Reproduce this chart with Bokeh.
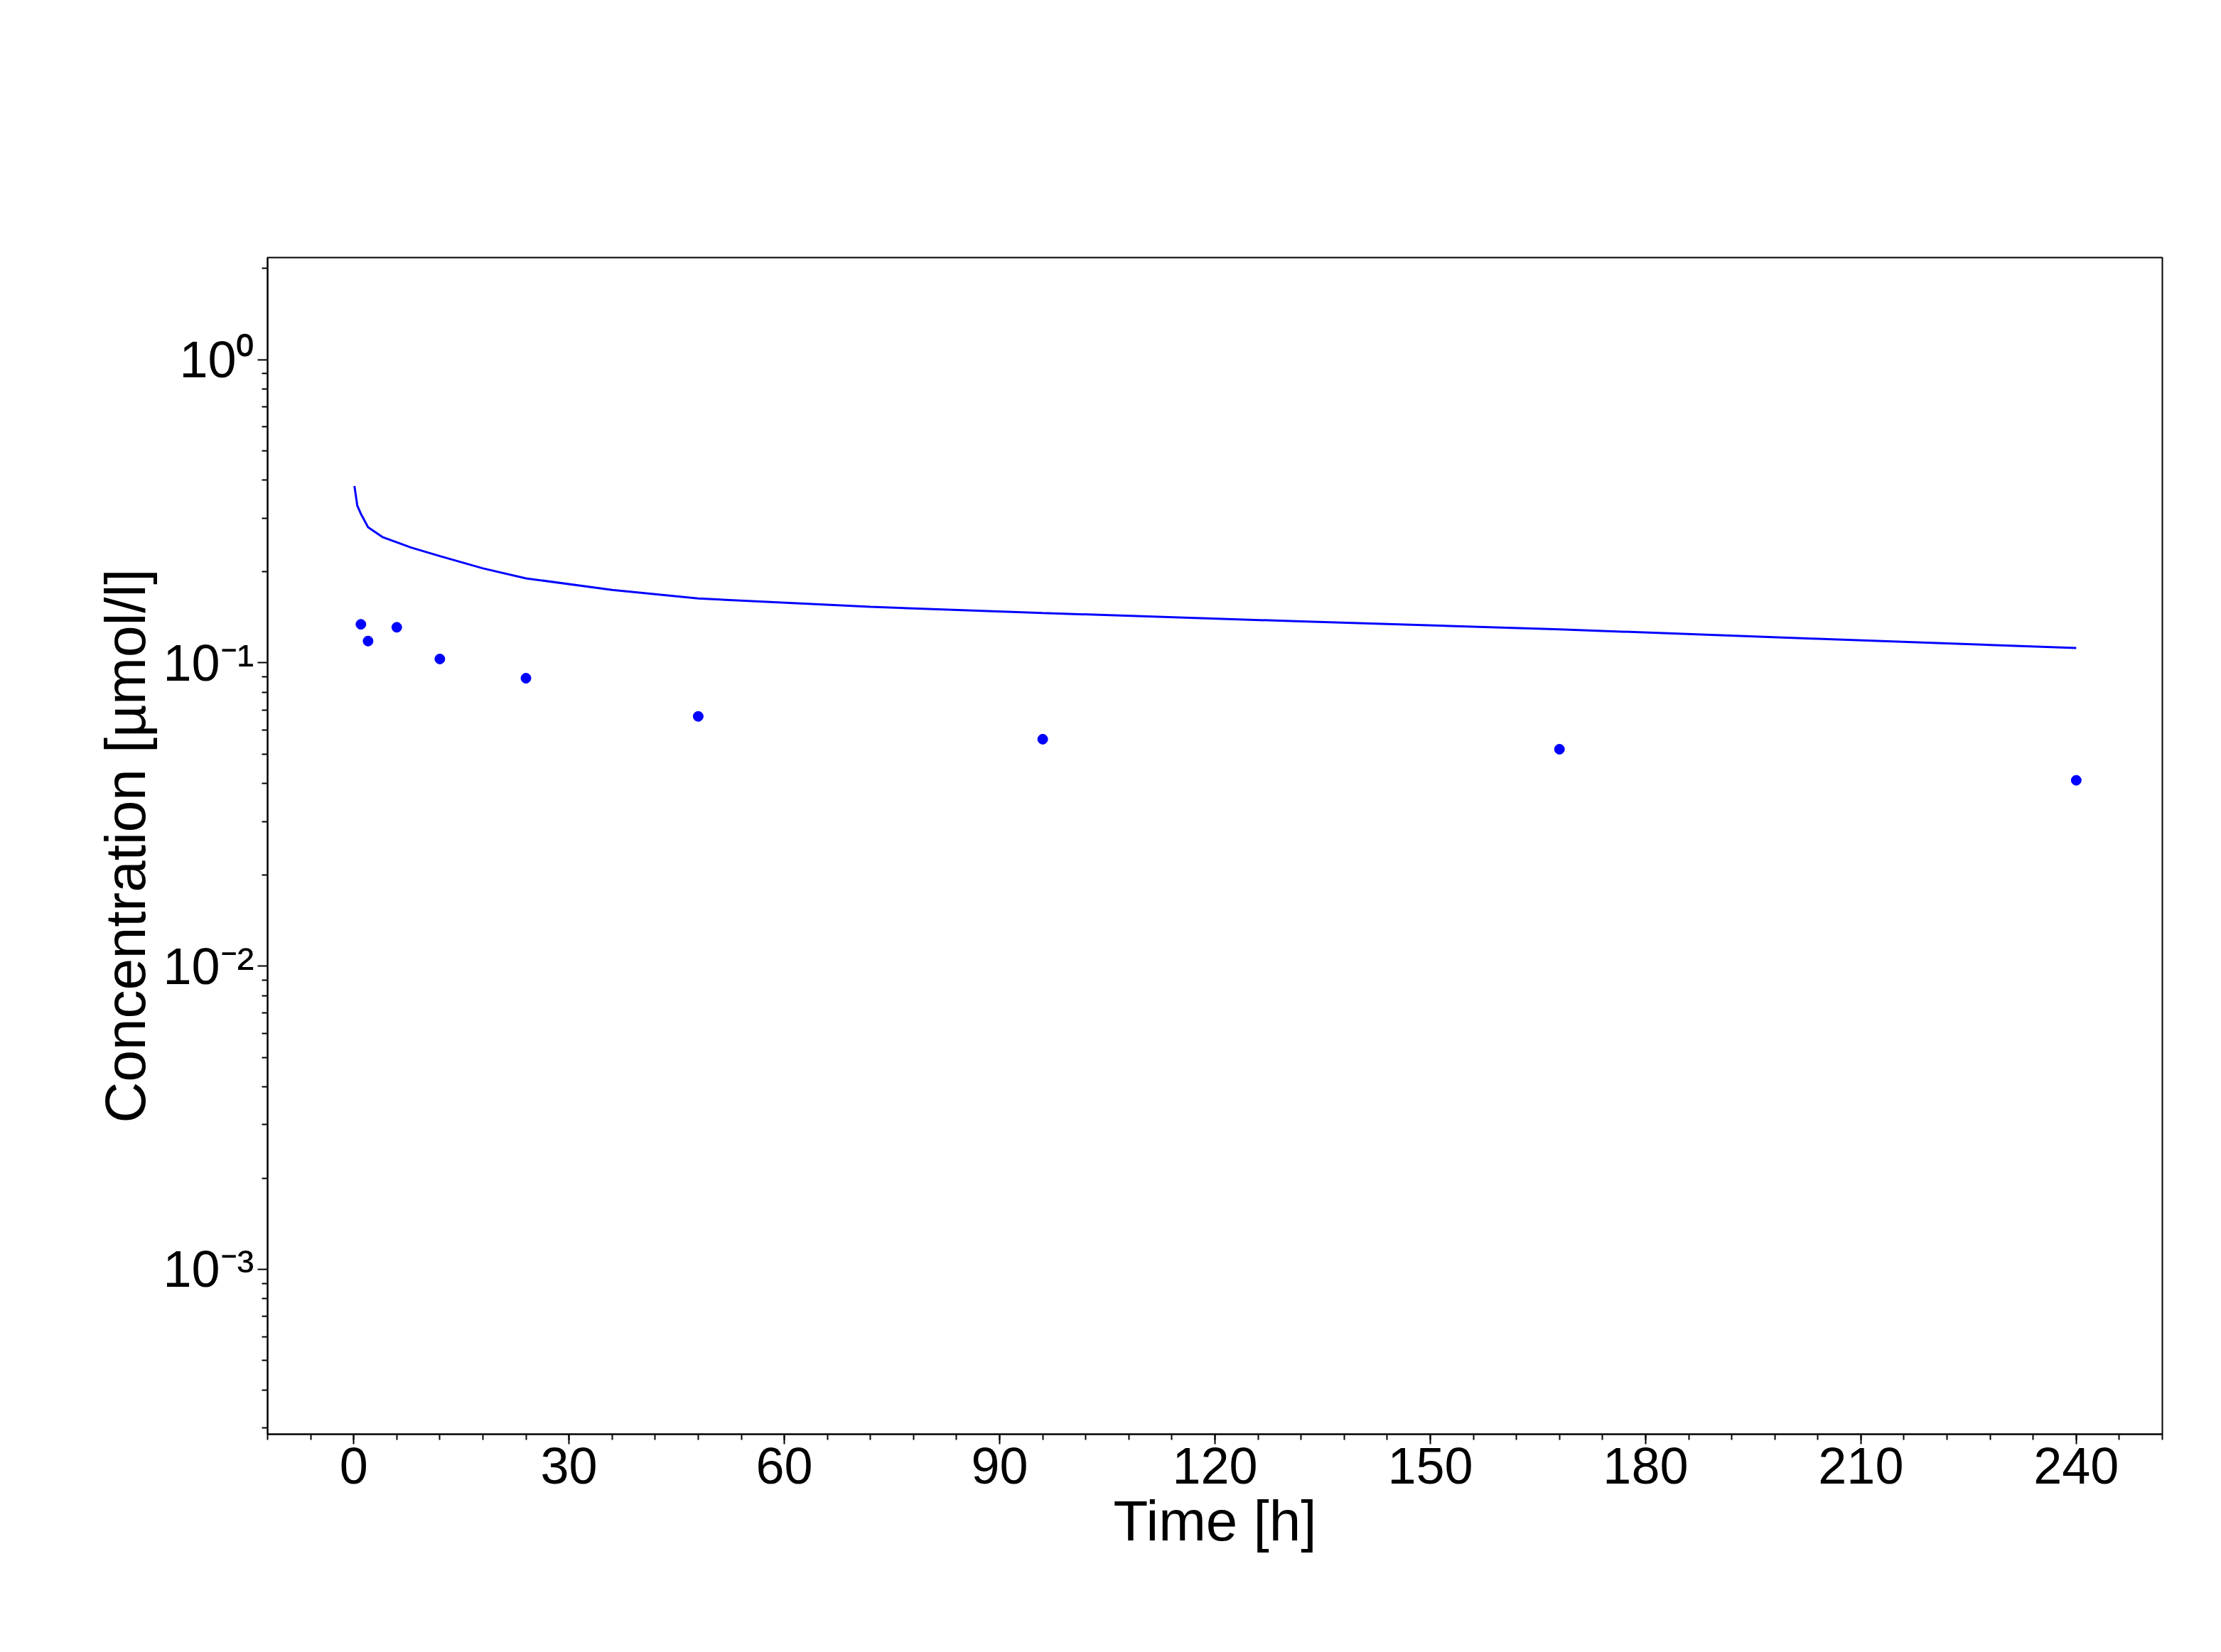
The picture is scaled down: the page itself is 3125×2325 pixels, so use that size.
from bokeh.plotting import figure
from bokeh.models import FixedTicker, Legend, LegendItem, Range1d
from bokeh.embed import file_html
from bokeh.resources import INLINE

# simulated curve
sim_time = [0.1, 0.5, 1, 2, 4, 8, 12, 18, 24, 36, 48, 72, 96, 132, 168, 204, 240]
sim_conc = [0.383, 0.33, 0.31, 0.28, 0.26, 0.24, 0.225, 0.205, 0.19, 0.174, 0.163,
            0.153, 0.146, 0.137, 0.129, 0.12, 0.112]

# measurements
obs_time = [1, 2, 6, 12, 24, 48, 96, 168, 240]
obs_conc = [0.134, 0.118, 0.131, 0.103, 0.089, 0.0666, 0.056, 0.0519, 0.041]

x_ticks = [0, 30, 60, 90, 120, 150, 180, 210, 240]
y_ticks = [1e-3, 1e-2, 1e-1, 1e0]
y_labels = {1e-3: "10⁻³", 1e-2: "10⁻²", 1e-1: "10⁻¹", 1e0: "10⁰"}

FONT = "Liberation Sans"
BLUE = "#0000ff"

p = figure(width=3110, height=2310, y_axis_type="log",
           x_range=Range1d(-12, 252), y_range=Range1d(2.86e-4, 2.17),
           output_backend="svg", toolbar_location=None, tools="",
           min_border_left=376, min_border_right=68,
           min_border_top=362, min_border_bottom=292)
p.grid.visible = False
p.outline_line_color = "black"
p.outline_line_width = 2

r_line = p.line(sim_time, sim_conc, line_color=BLUE, line_width=3)
r_pts = p.scatter(obs_time, obs_conc, size=14, color=BLUE)

p.xaxis.ticker = FixedTicker(ticks=x_ticks,
                             minor_ticks=[v for v in range(-12, 253, 6)])
minor_y = []
for e in range(-4, 1):
    for m in range(2, 10):
        minor_y.append(m * 10.0 ** e)
p.yaxis.ticker = FixedTicker(ticks=y_ticks, minor_ticks=minor_y)
p.yaxis.major_label_overrides = y_labels

p.xaxis.axis_label = "Time [h]"
p.yaxis.axis_label = "Concentration [µmol/l]"
for ax in [p.xaxis[0], p.yaxis[0]]:
    ax.axis_label_text_font = FONT
    ax.axis_label_text_font_size = "80px"
    ax.axis_label_text_font_style = "normal"
    ax.axis_label_text_color = "black"
    ax.major_label_text_font = FONT
    ax.major_label_text_font_size = "72px"
    ax.major_label_text_color = "black"
    ax.axis_line_color = "black"
    ax.axis_line_width = 2
    ax.major_tick_line_color = "black"
    ax.minor_tick_line_color = "black"
    ax.major_tick_line_width = 2
    ax.minor_tick_line_width = 2
    ax.major_tick_out = 14
    ax.minor_tick_out = 8
    ax.major_tick_in = 0
    ax.minor_tick_in = 0

legend = Legend(items=[
    LegendItem(label="7E3-Lung-Whole Organ incl. FcRn_Complex-7E3-\nConcentration",
               renderers=[r_line]),
    LegendItem(label="WildType.Lung.Tissue.Garg2007Fig5-Measurement",
               renderers=[r_pts]),
], location=(480, 1726), orientation="vertical")
legend.label_text_font = FONT
legend.label_text_font_size = "60px"
legend.label_text_color = "black"
legend.label_height = 70
legend.glyph_width = 110
legend.glyph_height = 70
legend.spacing = 20
legend.border_line_color = None
legend.background_fill_alpha = 0
p.add_layout(legend, "center")

open("out.html", "w").write(file_html(p, INLINE))
